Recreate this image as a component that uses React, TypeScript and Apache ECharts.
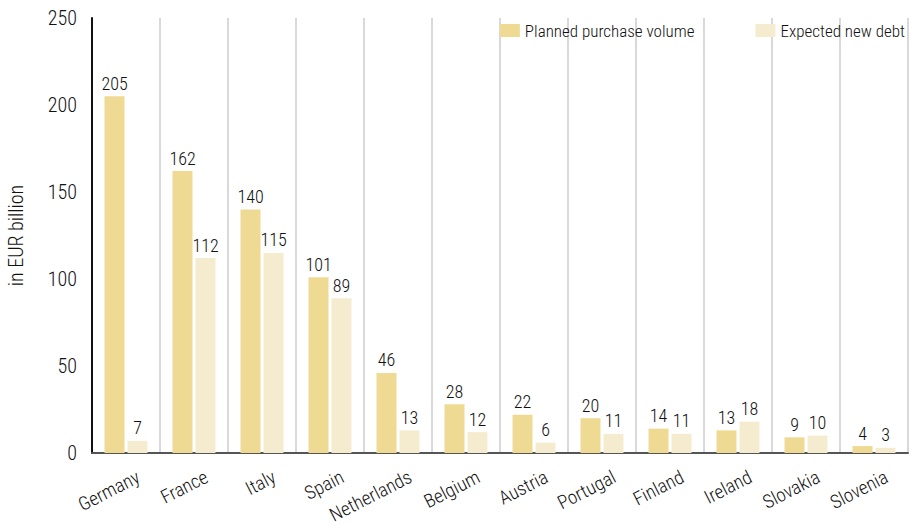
import React, { useEffect, useRef } from "react";
import * as echarts from "echarts";

const countries = ["Germany", "France", "Italy", "Spain", "Netherlands", "Belgium", "Austria", "Portugal", "Finland", "Ireland", "Slovakia", "Slovenia"];
const plannedPurchase = [205, 162, 140, 101, 46, 28, 22, 20, 14, 13, 9, 4];
const expectedDebt = [7, 112, 115, 89, 13, 12, 6, 11, 11, 18, 10, 3];
const seriesNames = ["Planned purchase volume", "Expected new debt"];
const yTicks = { min: 0, max: 250, interval: 50 };

const FONT = "'Roboto Condensed', 'Roboto', sans-serif";
const W = 300;

export default function App() {
  const ref = useRef<HTMLDivElement>(null);
  useEffect(() => {
    if (!ref.current) return;
    const chart = echarts.init(ref.current, null, { renderer: "svg" });
    const labelStyle = {
      show: true,
      position: "top" as const,
      distance: 4,
      color: "#111",
      fontSize: 18,
      fontWeight: W,
      fontFamily: FONT,
    };
    chart.setOption({
      animation: false,
      textStyle: { fontFamily: FONT, fontWeight: W },
      legend: {
        top: 17,
        right: 4,
        itemWidth: 20,
        itemHeight: 13,
        itemGap: 61,
        icon: "rect",
        textStyle: { fontSize: 17, color: "#111", fontFamily: FONT, fontWeight: W },
        data: seriesNames,
      },
      grid: { left: 92, right: 6, top: 18, bottom: 72, containLabel: false, outerBoundsMode: "none" },
      xAxis: {
        type: "category",
        data: countries,
        axisLine: { show: true, lineStyle: { color: "#555", width: 2 } },
        axisTick: { show: false },
        splitLine: { show: true, lineStyle: { color: "#cccccc", width: 1.5 } },
        axisLabel: {
          rotate: 27,
          interval: 0,
          margin: 29,
          fontSize: 19,
          fontWeight: W,
          color: "#111",
          fontFamily: FONT,
          padding: [0, -14, 0, 0],
        },
      },
      yAxis: {
        type: "value",
        min: yTicks.min,
        max: yTicks.max,
        interval: yTicks.interval,
        name: "in EUR billion",
        nameLocation: "middle",
        nameRotate: 90,
        nameGap: 66,
        nameTextStyle: { fontSize: 20, color: "#111", fontFamily: FONT, fontWeight: W },
        axisLine: { show: true, lineStyle: { color: "#111", width: 2 } },
        axisTick: { show: false },
        splitLine: { show: false },
        axisLabel: { fontSize: 20, fontWeight: W, color: "#111", margin: 15, fontFamily: FONT },
      },
      series: [
        {
          name: seriesNames[0],
          type: "bar",
          data: plannedPurchase,
          barWidth: 20,
          barGap: "15%",
          itemStyle: { color: "#EFDA94" },
          label: labelStyle,
        },
        {
          name: seriesNames[1],
          type: "bar",
          data: expectedDebt,
          barWidth: 20,
          itemStyle: { color: "#F5ECD0" },
          label: labelStyle,
        },
      ],
    });
    return () => chart.dispose();
  }, []);
  return <div ref={ref} style={{ width: 914, height: 525, position: "absolute", left: 0, top: 0 }} />;
}
